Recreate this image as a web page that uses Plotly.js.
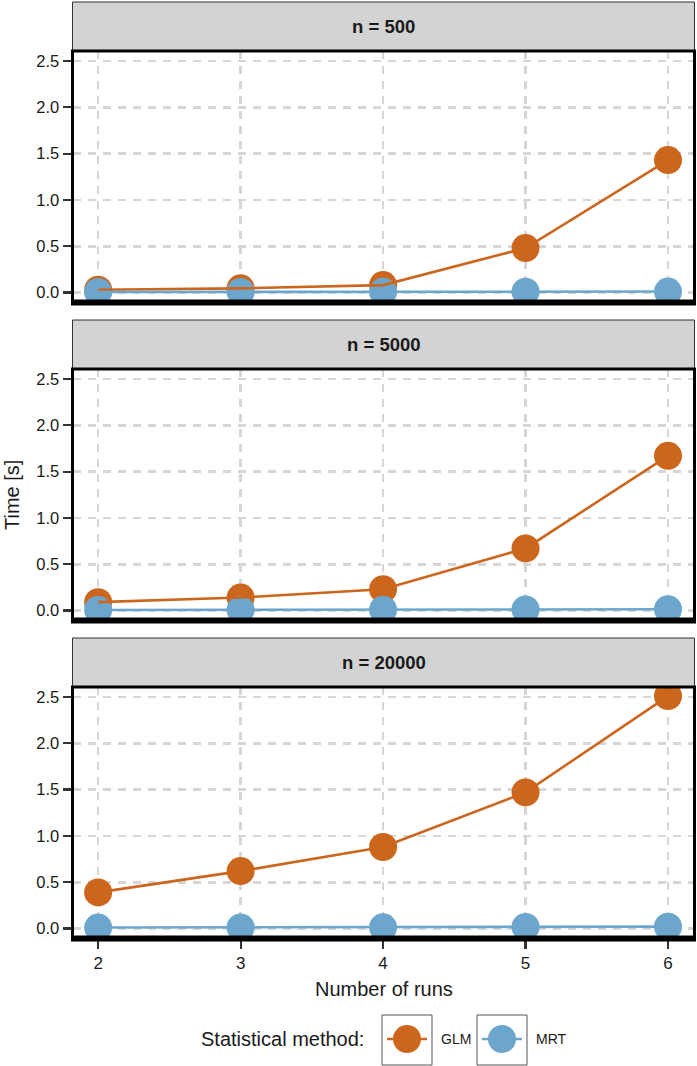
<!DOCTYPE html>
<html>
<head>
<meta charset="utf-8">
<script src="https://cdn.plot.ly/plotly-3.0.1.min.js"></script>
<style>html,body{margin:0;padding:0;background:#fff;}#chart{width:697px;height:1066px;}</style>
</head>
<body>
<div id="chart"></div>
<script>
// ---- data ----
const runs = [2, 3, 4, 5, 6];
const panelLabels = ["n = 500", "n = 5000", "n = 20000"];
const methods = ["GLM", "MRT"];
const glm500 = [0.03, 0.045, 0.08, 0.48, 1.43];
const mrt500 = [0.005, 0.006, 0.007, 0.008, 0.01];
const glm5000 = [0.09, 0.14, 0.23, 0.67, 1.67];
const mrt5000 = [0.006, 0.007, 0.009, 0.011, 0.013];
const glm20000 = [0.39, 0.62, 0.88, 1.47, 2.51];
const mrt20000 = [0.01, 0.011, 0.013, 0.016, 0.02];
const yTicks = [0, 0.5, 1.0, 1.5, 2.0, 2.5];
const yTickText = ["0.0", "0.5", "1.0", "1.5", "2.0", "2.5"];
const xTitle = "Number of runs";
const yTitle = "Time [s]";
const legendTitle = "Statistical method:";

// ---- styling ----
const W = 697, H = 1066;
const colors = {GLM: "#CD661D", MRT: "#6CA6CD"};
const FONT = "Liberation Sans, Arial, sans-serif";
const px = v => v / W;
const py = v => 1 - v / H;

const panelTops = [51, 369, 687];
const panelH = 251.5;
const stripH = 49;
const xL = 72.5, xR = 694.5;

const series = [[glm500, mrt500], [glm5000, mrt5000], [glm20000, mrt20000]];
const traces = [];
series.forEach((s, i) => {
  const xa = i === 0 ? "x" : "x" + (i + 1);
  const ya = i === 0 ? "y" : "y" + (i + 1);
  // markers first
  s.forEach((vals, j) => {
    traces.push({x: runs, y: vals, xaxis: xa, yaxis: ya, type: "scatter", mode: "markers",
      name: methods[j], showlegend: false, hoverinfo: "skip",
      marker: {size: 28, color: colors[methods[j]], line: {width: 0}}});
  });
  // then lines
  s.forEach((vals, j) => {
    traces.push({x: runs, y: vals, xaxis: xa, yaxis: ya, type: "scatter", mode: "lines",
      name: methods[j], showlegend: false, hoverinfo: "skip",
      line: {width: 2.6, color: colors[methods[j]]}});
  });
});

const layout = {
  width: W, height: H,
  margin: {l: 0, r: 0, t: 0, b: 0},
  paper_bgcolor: "#fff", plot_bgcolor: "#fff",
  showlegend: false,
  font: {family: FONT, color: "#1a1a1a", size: 16},
  shapes: [], annotations: []
};

for (let i = 0; i < 3; i++) {
  const sfx = i === 0 ? "" : String(i + 1);
  const top = panelTops[i], bot = top + panelH;
  layout["xaxis" + sfx] = {
    domain: [px(xL), px(xR)], range: [1.82, 6.186], anchor: "y" + sfx,
    tickvals: runs, ticktext: runs.map(String),
    showticklabels: i === 2, ticks: i === 2 ? "outside" : "",
    ticklen: 9, tickwidth: 2.2, tickcolor: "#333",
    tickfont: {size: 17, color: "#1a1a1a"},
    showgrid: true, gridcolor: "#d6d6d6", gridwidth: 2.6, griddash: "8px,7px",
    zeroline: false, showline: false, fixedrange: true
  };
  layout["yaxis" + sfx] = {
    domain: [py(bot), py(top)], range: [-0.108, 2.608], anchor: "x" + sfx,
    tickvals: yTicks, ticktext: yTickText,
    ticks: "outside", ticklen: 9, tickwidth: 2.2, tickcolor: "#333",
    tickfont: {size: 16.5, color: "#1a1a1a"},
    showgrid: true, gridcolor: "#d6d6d6", gridwidth: 2.6, griddash: "8px,7px",
    zeroline: false, showline: false, fixedrange: true
  };
  // strip
  layout.shapes.push({type: "rect", xref: "paper", yref: "paper",
    x0: px(xL), x1: px(xR), y0: py(top), y1: py(top - stripH),
    fillcolor: "#D3D3D3", line: {color: "#333", width: 1}, layer: "above"});
  layout.annotations.push({xref: "paper", yref: "paper", x: px((xL + xR) / 2), y: py(top - stripH / 2),
    text: "<b>" + panelLabels[i] + "</b>", showarrow: false, xanchor: "center", yanchor: "middle",
    font: {size: 18.5, color: "#1a1a1a", family: FONT}});
  // panel border
  layout.shapes.push({type: "rect", xref: "paper", yref: "paper",
    x0: px(xL), x1: px(xR), y0: py(bot), y1: py(top),
    line: {color: "#000", width: 3}, layer: "above"});
  layout.shapes.push({type: "line", xref: "paper", yref: "paper",
    x0: px(xL - 1.5), x1: px(xR + 1.5), y0: py(bot), y1: py(bot),
    line: {color: "#000", width: 6}, layer: "above"});
}

// axis titles
layout.annotations.push({xref: "paper", yref: "paper", x: px((xL + xR) / 2), y: py(989),
  text: xTitle, showarrow: false, xanchor: "center", yanchor: "middle",
  font: {size: 20, color: "#1a1a1a"}});
layout.annotations.push({xref: "paper", yref: "paper", x: px(12), y: py(495),
  text: yTitle, showarrow: false, textangle: -90, xanchor: "center", yanchor: "middle",
  font: {size: 20, color: "#1a1a1a"}});

// legend (manual)
const legY = 1039;
layout.annotations.push({xref: "paper", yref: "paper", x: px(366), y: py(legY),
  text: legendTitle, showarrow: false, xanchor: "right", yanchor: "middle",
  font: {size: 20, color: "#1a1a1a"}});
const keyBoxes = [382, 477];
methods.forEach((m, j) => {
  const bx = keyBoxes[j];
  layout.shapes.push({type: "rect", xref: "paper", yref: "paper",
    x0: px(bx), x1: px(bx + 50), y0: py(1015 + 50), y1: py(1015),
    line: {color: "#555", width: 1}, fillcolor: "#fff", layer: "above"});
  layout.shapes.push({type: "line", xref: "paper", yref: "paper",
    x0: px(bx + 5), x1: px(bx + 45), y0: py(legY), y1: py(legY),
    line: {color: colors[m], width: 2.6}, layer: "above"});
  layout.shapes.push({type: "circle", xref: "paper", yref: "paper",
    xsizemode: "pixel", ysizemode: "pixel", xanchor: px(bx + 25), yanchor: py(legY),
    x0: -14, x1: 14, y0: -14, y1: 14,
    fillcolor: colors[m], line: {width: 0}, layer: "above"});
  layout.annotations.push({xref: "paper", yref: "paper", x: px(bx + 57), y: py(legY),
    text: m, showarrow: false, xanchor: "left", yanchor: "middle",
    font: {size: 14, color: "#1a1a1a"}});
});

Plotly.newPlot("chart", traces, layout, {displayModeBar: false, staticPlot: true});
</script>
</body>
</html>
